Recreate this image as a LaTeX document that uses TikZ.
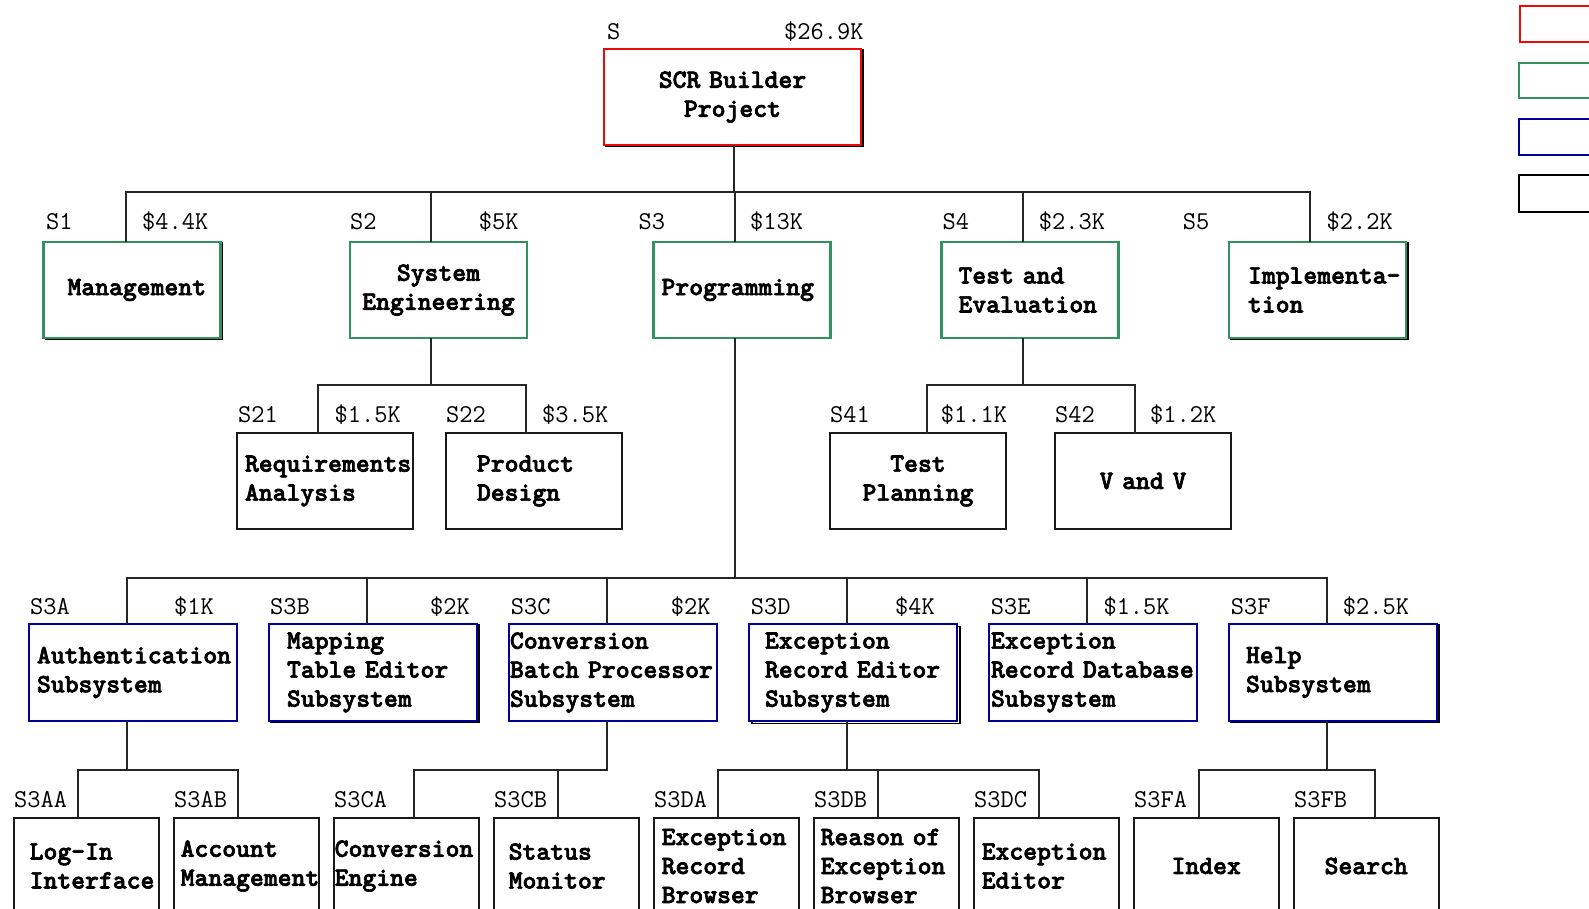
\documentclass[tikz,border=0pt]{standalone}
\usepackage{fontspec}
\newfontfamily\boxfont{lmmonolt10-bold.otf}[FakeBold=2.5]
\usetikzlibrary{calc,shadows}
\definecolor{wbsred}{RGB}{235,10,10}
\definecolor{wbsgreen}{RGB}{50,145,95}
\definecolor{wbsblue}{RGB}{0,0,150}
\newcommand\bxl[1]{\mbox{#1}}
\begin{document}
\begin{tikzpicture}[x=1pt,y=-1pt,
  wbox/.style={draw=black!90, fill=white, line width=2pt, inner sep=0pt, outer sep=0pt,
    anchor=north west, font=\boxfont\bfseries\fontsize{26.4}{29}\selectfont},
  rootbox/.style={wbox, draw=wbsred, line width=2.4pt, minimum width=257pt, minimum height=96pt},
  lvlone/.style={wbox, draw=wbsgreen, line width=2.4pt, minimum width=177pt, minimum height=96pt},
  lvltwo/.style={wbox, minimum width=176pt, minimum height=96pt},
  lvlthree/.style={wbox, draw=wbsblue, line width=2.4pt, minimum width=208pt, minimum height=97pt},
  lvlfour/.style={wbox, minimum width=145pt, minimum height=96pt},
  lt/.style={text width=#1, align=left},
  ct/.style={text width=#1, align=center},
  edge shade/.style={general shadow={draw=black, line width=1.4pt, shadow xshift=2pt, shadow yshift=-1pt}},
  tagtext/.style={font=\ttfamily\fontsize{25.7}{28}\selectfont, inner sep=0pt, anchor=west},
  conn/.style={line width=2pt, draw=black!85},
  legbox/.style={draw, line width=2.4pt, fill=white, anchor=north west, minimum width=90pt, inner sep=0pt, outer sep=0pt}
]
\useasboundingbox (0,0) rectangle (1589,909);

% ---- root ----
\node[rootbox, edge shade, ct=257pt] (root) at (604,49) {SCR Builder\\Project};

% ---- first level ----
\node[lvlone, edge shade, lt=129pt] (m1) at (43.5,242) {\bxl{Management}};
\node[lvlone, ct=177pt] (m2) at (350,242) {System\\Engineering};
\node[lvlone, lt=161pt] (m3) at (653.5,242) {\bxl{Programming}};
\node[lvlone, lt=143pt] (m4) at (941.5,242) {\bxl{Test and}\\\bxl{Evaluation}};
\node[lvlone, edge shade, lt=139pt] (m5) at (1229,242) {\bxl{Implementa-}\\\bxl{tion}};

% ---- second level ----
\node[lvltwo, lt=160pt] (r1) at (237,433) {\bxl{Requirements}\\\bxl{Analysis}};
\node[lvltwo, lt=114pt] (r2) at (446,433) {\bxl{Product}\\\bxl{Design}};
\node[lvltwo, ct=176pt] (t1) at (830,433) {Test\\Planning};
\node[lvltwo, ct=176pt] (t2) at (1055,433) {V and V};

% ---- programming subsystems ----
\node[lvlthree, lt=192pt] (a) at (29,624) {\bxl{Authentication}\\\bxl{Subsystem}};
\node[lvlthree, edge shade, lt=172pt] (b) at (269,624) {\bxl{Mapping}\\\bxl{Table Editor}\\\bxl{Subsystem}};
\node[lvlthree, lt=206pt] (c) at (509,624) {\bxl{Conversion}\\\bxl{Batch Processor}\\\bxl{Subsystem}};
\node[lvlthree, general shadow={draw=black, line width=1.4pt, shadow xshift=3pt, shadow yshift=-2.5pt}, lt=176pt] (d) at (749,624) {\bxl{Exception}\\\bxl{Record Editor}\\\bxl{Subsystem}};
\node[lvlthree, lt=204pt] (e) at (989,624) {\bxl{Exception}\\\bxl{Record Database}\\\bxl{Subsystem}};
\node[lvlthree, edge shade, lt=174pt] (f) at (1229,624) {\bxl{Help}\\\bxl{Subsystem}};

% ---- components ----
\node[lvlfour, lt=113pt] (aa) at (13.7,818) {\bxl{Log-In}\\\bxl{Interface}};
\node[lvlfour, lt=131pt] (ab) at (173.7,818) {\bxl{Account}\\\bxl{Management}};
\node[lvlfour, lt=143pt] (ca) at (333.7,818) {\bxl{Conversion}\\\bxl{Engine}};
\node[lvlfour, lt=115pt] (cb) at (493.7,818) {\bxl{Status}\\\bxl{Monitor}};
\node[lvlfour, lt=129pt] (da) at (653.7,818) {\bxl{Exception}\\\bxl{Record}\\\bxl{Browser}};
\node[lvlfour, lt=131pt] (db) at (813.7,818) {\bxl{Reason of}\\\bxl{Exception}\\\bxl{Browser}};
\node[lvlfour, lt=129pt] (dc) at (973.7,818) {\bxl{Exception}\\\bxl{Editor}};
\node[lvlfour, ct=145pt] (fa) at (1133.7,818) {Index};
\node[lvlfour, ct=145pt] (fb) at (1293.7,818) {Search};

% ---- connectors ----
\foreach \n/\dx in {m1/82pt, m2/80.5pt, m3/81pt, m4/81pt, m5/81pt}
  \draw[conn] ([xshift=130pt]root.south west) -- ++(0,47.5) -| ([xshift=\dx]\n.north west);
\foreach \n/\dx in {r1/81pt, r2/80pt}
  \draw[conn] ([xshift=80.5pt]m2.south west) -- ++(0,47) -| ([xshift=\dx]\n.north west);
\foreach \n/\dx in {t1/96.7pt, t2/80pt}
  \draw[conn] ([xshift=81pt]m4.south west) -- ++(0,47) -| ([xshift=\dx]\n.north west);
\foreach \n in {a,b,c,d,e,f}
  \draw[conn] ([xshift=81pt]m3.south west) -- ++(0,239.6) -| ([xshift=97.5pt]\n.north west);
\foreach \n/\dx in {aa/64.3pt, ab/64.6pt}
  \draw[conn] ([xshift=97.5pt]a.south west) -- ++(0,49) -| ([xshift=\dx]\n.north west);
\foreach \n/\dx in {ca/80.6pt, cb/64.6pt}
  \draw[conn] ([xshift=97.5pt]c.south west) -- ++(0,49) -| ([xshift=\dx]\n.north west);
\foreach \n/\dx in {da/64.6pt, db/64.6pt, dc/65.3pt}
  \draw[conn] ([xshift=97.5pt]d.south west) -- ++(0,49) -| ([xshift=\dx]\n.north west);
\foreach \n/\dx in {fa/65.3pt, fb/81.3pt}
  \draw[conn] ([xshift=97.5pt]f.south west) -- ++(0,49) -| ([xshift=\dx]\n.north west);

% ---- codes and costs ----
\node[tagtext] (c-s) at (607,32) {S};
\node[tagtext] (k-s) at (784,32) {\$26.9K};

\node[tagtext] (c-s1) at (46,222) {S1};
\node[tagtext] (k-s1) at (142,222) {\$4.4K};
\node[tagtext] (c-s2) at (350,222) {S2};
\node[tagtext] (k-s2) at (478.6,222) {\$5K};
\node[tagtext] (c-s3) at (638.4,222) {S3};
\node[tagtext] (k-s3) at (750,222) {\$13K};
\node[tagtext] (c-s4) at (942.5,222) {S4};
\node[tagtext] (k-s4) at (1038.7,222) {\$2.3K};
\node[tagtext] (c-s5) at (1182.6,222) {S5};
\node[tagtext] (k-s5) at (1326.5,222) {\$2.2K};

\node[tagtext] (c-s21) at (238,415) {S21};
\node[tagtext] (k-s21) at (334.4,415) {\$1.5K};
\node[tagtext] (c-s22) at (446,415) {S22};
\node[tagtext] (k-s22) at (542,415) {\$3.5K};
\node[tagtext] (c-s41) at (830,415) {S41};
\node[tagtext] (k-s41) at (940.7,415) {\$1.1K};
\node[tagtext] (c-s42) at (1055,415) {S42};
\node[tagtext] (k-s42) at (1150,415) {\$1.2K};

\node[tagtext] (c-s3a) at (30,606.7) {S3A};
\node[tagtext] (k-s3a) at (174,606.7) {\$1K};
\node[tagtext] (c-s3b) at (270,606.7) {S3B};
\node[tagtext] (k-s3b) at (430,606.7) {\$2K};
\node[tagtext] (c-s3c) at (510.7,606.7) {S3C};
\node[tagtext] (k-s3c) at (670.7,606.7) {\$2K};
\node[tagtext] (c-s3d) at (750.7,606.7) {S3D};
\node[tagtext] (k-s3d) at (895,606.7) {\$4K};
\node[tagtext] (c-s3e) at (990.7,606.7) {S3E};
\node[tagtext] (k-s3e) at (1103.3,606.7) {\$1.5K};
\node[tagtext] (c-s3f) at (1230.7,606.7) {S3F};
\node[tagtext] (k-s3f) at (1342.7,606.7) {\$2.5K};

\node[tagtext] (c-s3aa) at (14,799.3) {S3AA};
\node[tagtext] (c-s3ab) at (174,799.3) {S3AB};
\node[tagtext] (c-s3ca) at (334,799.3) {S3CA};
\node[tagtext] (c-s3cb) at (494,799.3) {S3CB};
\node[tagtext] (c-s3da) at (654,799.3) {S3DA};
\node[tagtext] (c-s3db) at (814,799.3) {S3DB};
\node[tagtext] (c-s3dc) at (974,799.3) {S3DC};
\node[tagtext] (c-s3fa) at (1134,799.3) {S3FA};
\node[tagtext] (c-s3fb) at (1294,799.3) {S3FB};

% ---- colour key ----
\node[legbox, draw=wbsred, minimum height=36pt] (key1) at (1520,6) {};
\node[legbox, draw=wbsgreen, minimum height=35pt] (key2) at (1519,63) {};
\node[legbox, draw=wbsblue, minimum height=36pt] (key3) at (1519,119) {};
\node[legbox, draw=black, line width=2pt, minimum height=37pt] (key4) at (1519,175) {};
\end{tikzpicture}
\end{document}
